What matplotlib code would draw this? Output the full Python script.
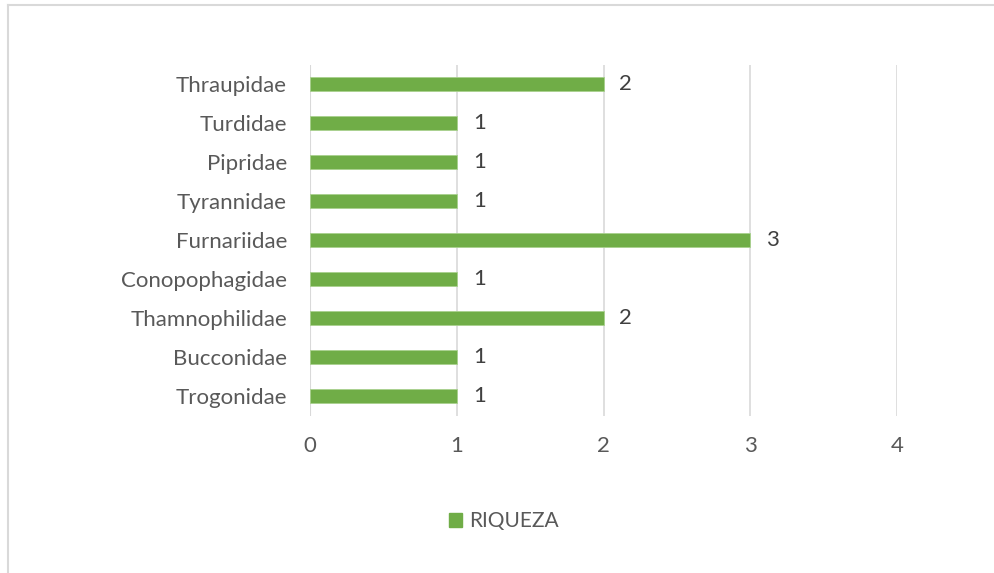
import matplotlib
matplotlib.use("Agg")
import matplotlib.pyplot as plt
from matplotlib.patches import Rectangle
from matplotlib.lines import Line2D

categories = ["Trogonidae", "Bucconidae", "Thamnophilidae", "Conopophagidae",
              "Furnariidae", "Tyrannidae", "Pipridae", "Turdidae", "Thraupidae"]
riqueza = [1, 1, 2, 1, 3, 1, 1, 1, 2]
xticks = [0, 1, 2, 3, 4]
series_name = "RIQUEZA"

W, H = 994, 573
fig = plt.figure(figsize=(W / 100, H / 100), dpi=100)
plt.rcParams["font.family"] = ["Lato", "DejaVu Sans"]
FS = 16

# plot area in pixels
left, right, top, bottom = 310, 897, 64.5, 415.5
ax = fig.add_axes([left / W, 1 - bottom / H, (right - left) / W, (bottom - top) / H])

green = "#70AD47"
ypos = list(range(len(categories)))
ax.barh(ypos, riqueza, height=0.35, color=green, edgecolor="#A9D18E", linewidth=0.6, zorder=3)
ax.set_xlim(0, 4)
ax.set_ylim(-0.5, len(categories) - 0.5)
ax.set_xticks(xticks)
ax.set_xticklabels([str(t) for t in xticks])
ax.set_yticks(ypos)
ax.set_yticklabels(categories)
ax.grid(axis="x", color="#D9D9D9", linewidth=1.2, zorder=0)
for s in ax.spines.values():
    s.set_visible(False)
ax.axvline(0, color="#D9D9D9", linewidth=1.5, zorder=1)
ax.tick_params(axis="both", length=0, labelsize=FS, labelcolor="#595959")
ax.tick_params(axis="y", pad=16.5)
ax.tick_params(axis="x", pad=15)

for y, v in zip(ypos, riqueza):
    ax.annotate(str(v), (v, y), xytext=(11.5, 0), textcoords="offset points",
                va="center", ha="left", fontsize=FS, color="#404040")

# legend
handle = Rectangle((0, 0), 1, 1, color=green)
fig.legend([handle], [series_name], loc="center", bbox_to_anchor=(504 / W, 1 - 521 / H),
           frameon=False, fontsize=15, labelcolor="#595959", handlelength=0.65,
           handleheight=0.65, handletextpad=0.35)

# chart area border (cropped on right/bottom)
fig.add_artist(Line2D([8 / W, 1], [1 - 5 / H, 1 - 5 / H], color="#D9D9D9", linewidth=1.5,
                      transform=fig.transFigure))
fig.add_artist(Line2D([8 / W, 8 / W], [0, 1 - 5 / H], color="#D9D9D9", linewidth=1.5,
                      transform=fig.transFigure))

fig.savefig("out.png", dpi=100)
